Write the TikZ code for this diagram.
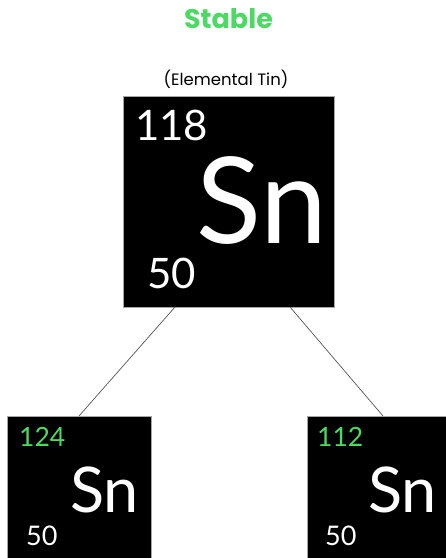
\documentclass[tikz,border=0pt]{standalone}
\usepackage{fontspec}
\setmainfont{Lato}
\newfontfamily\titlefont{Poppins}
\definecolor{stablegreen}{HTML}{4CD964}
\definecolor{linegray}{HTML}{555555}
\tikzset{
  elbox/.style={draw=gray!70, line width=0.6pt, fill=black, minimum size=#1, inner sep=0pt},
  eltext/.style={text=white, inner sep=0pt, anchor=base west},
  conn/.style={draw=linegray, line width=0.7pt},
}
\begin{document}
\begin{tikzpicture}[x=1pt,y=1pt]
\useasboundingbox (0,0) rectangle (446,-558);
\clip (0,0) rectangle (446,-558);
\node[inner sep=0pt, anchor=base, text=stablegreen, font=\titlefont\fontsize{27}{30}\selectfont\bfseries] (title) at (228.5,-28) {Stable};
\node[inner sep=0pt, anchor=base, font=\titlefont\fontsize{16.5}{18}\selectfont] (sub) at (226,-85) {(Elemental Tin)};
\node[elbox=211pt] (main) at (228.5,-201.5) {};
\node[eltext, font=\fontsize{42}{46}\selectfont] (mA) at (135,-140) {118};
\node[eltext, font=\fontsize{120}{122}\selectfont] (mS) at (196,-243) {Sn};
\node[eltext, font=\fontsize{42}{46}\selectfont] (mZ) at (147,-288) {50};
\node[elbox=144pt] (left) at (79,-488) {};
\node[eltext, text=stablegreen, font=\fontsize{26.5}{28}\selectfont] (lA) at (19,-446) {124};
\node[eltext, font=\fontsize{63}{66}\selectfont] (lS) at (70,-512) {Sn};
\node[eltext, font=\fontsize{27}{30}\selectfont] (lZ) at (26,-545) {50};
\node[elbox=144pt] (right) at (379,-488) {};
\node[eltext, text=stablegreen, font=\fontsize{26.5}{28}\selectfont] (rA) at (317,-446) {112};
\node[eltext, font=\fontsize{63}{66}\selectfont] (rS) at (368,-512) {Sn};
\node[eltext, font=\fontsize{27}{30}\selectfont] (rZ) at (325,-545) {50};
\coordinate (mL) at (175,-307);
\coordinate (mR) at (290,-307);
\coordinate (lT) at (79,-416);
\coordinate (rT) at (383,-416);
\draw[conn] (mL) -- (lT);
\draw[conn] (mR) -- (rT);
\end{tikzpicture}
\end{document}
